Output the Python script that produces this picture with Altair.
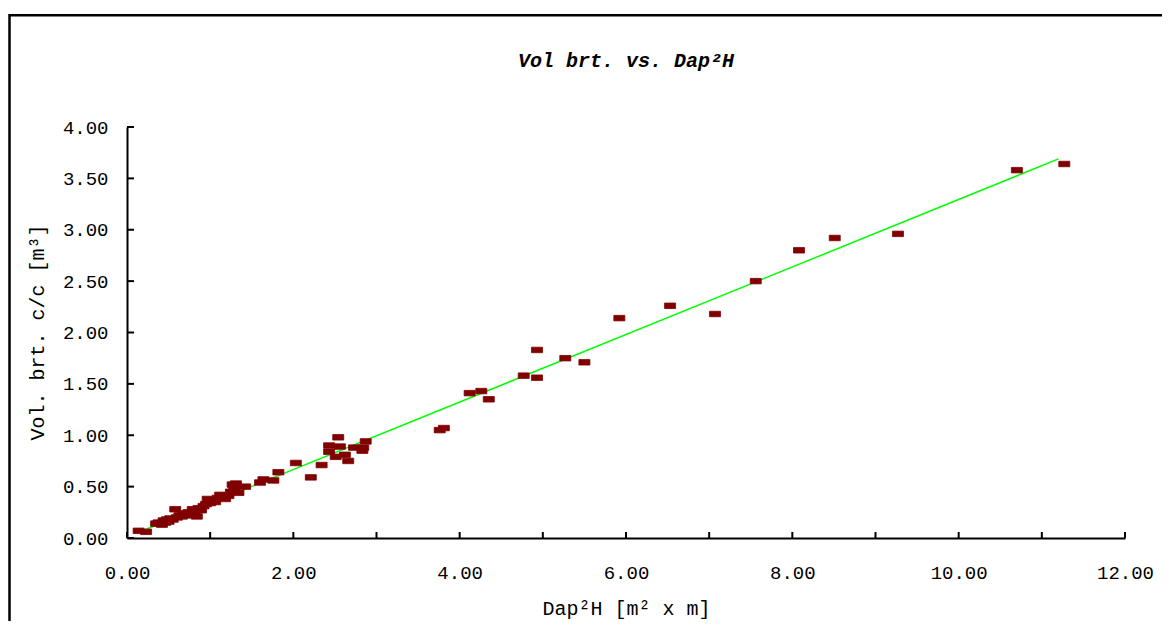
import altair as alt
import pandas as pd

# Dap²H [m² x m]
dap2h = [0.14, 0.23, 0.35, 0.38, 0.42, 0.44, 0.46, 0.48, 0.50, 0.52, 0.55, 0.58, 0.60, 0.63,
         0.66, 0.68, 0.71, 0.74, 0.76, 0.79, 0.81, 0.84, 0.86, 0.89, 0.92, 0.95, 0.97, 1.00,
         1.03, 1.06, 1.09, 1.12, 1.15, 1.18, 1.22, 1.25, 1.27, 1.29, 1.31, 1.34, 1.42, 1.60,
         1.64, 1.76, 1.82, 2.03, 2.21, 2.34, 2.43, 2.43, 2.54, 2.56, 2.51, 2.62, 2.66, 2.73,
         2.83, 2.84, 2.87, 3.76, 3.81, 4.12, 4.26, 4.35, 4.77, 4.93, 4.93, 5.27, 5.50, 5.92,
         6.53, 7.07, 7.56, 8.08, 8.51, 9.27, 10.70, 11.27]
# Vol. brt. c/c [m³]
vol = [0.07, 0.06, 0.14, 0.15, 0.13, 0.17, 0.15, 0.18, 0.16, 0.19, 0.18, 0.28, 0.20, 0.22,
       0.21, 0.24, 0.22, 0.25, 0.23, 0.28, 0.26, 0.21, 0.29, 0.27, 0.31, 0.33, 0.38, 0.34,
       0.36, 0.35, 0.39, 0.42, 0.40, 0.38, 0.41, 0.45, 0.52, 0.49, 0.53, 0.44, 0.50, 0.54,
       0.57, 0.56, 0.64, 0.73, 0.59, 0.71, 0.90, 0.84, 0.98, 0.89, 0.79, 0.81, 0.75, 0.88,
       0.85, 0.88, 0.94, 1.05, 1.07, 1.41, 1.43, 1.35, 1.58, 1.83, 1.56, 1.75, 1.71, 2.14,
       2.26, 2.18, 2.50, 2.80, 2.92, 2.96, 3.58, 3.64]

x_ticks = list(range(0, 13))
x_labels = [0, 2, 4, 6, 8, 10, 12]
y_ticks = [0, 0.5, 1.0, 1.5, 2.0, 2.5, 3.0, 3.5, 4.0]
trend_extent = [0.15, 11.2]
chart_title = ["Vol brt. vs. Dap²H"]

df = pd.DataFrame({"x": dap2h, "y": vol})
xt = pd.DataFrame({"x": x_ticks})
yt = pd.DataFrame({"y": y_ticks})

W, H = 998, 411
FONT = "Liberation Mono"

xscale = alt.Scale(domain=[0, 12], nice=False, zero=False)
yscale = alt.Scale(domain=[0, 4], nice=False, zero=False)

xaxis = alt.Axis(values=x_labels, format=".2f", ticks=False, grid=False,
                 domainColor="black", domainWidth=2, labelFont=FONT, labelFontSize=19,
                 labelColor="black", labelPadding=25, title="Dap²H [m² x m]",
                 titleFont=FONT, titleFontSize=20, titleFontWeight="normal",
                 titleColor="black", titleX=499, titleY=70, titleBaseline="middle",
                 titleAnchor="middle", labelFlush=False)
yaxis = alt.Axis(values=y_ticks, format=".2f", ticks=False, grid=False,
                 domainColor="black", domainWidth=2, labelFont=FONT, labelFontSize=19,
                 labelColor="black", labelPadding=19, title="Vol. brt. c/c [m³]",
                 titleFont=FONT, titleFontSize=20, titleFontWeight="normal",
                 titleColor="black", titleX=-90, titleY=205, titleBaseline="middle",
                 titleAnchor="middle", labelFlush=False)

border = alt.Chart(pd.DataFrame({"a": [0]})).mark_rect(
    fill=None, stroke="black", strokeWidth=2.5, clip=False
).encode(x=alt.value(-117.5), x2=alt.value(1200), y=alt.value(-111.7), y2=alt.value(700))

title_text = alt.Chart(pd.DataFrame({"t": chart_title})).mark_text(
    font=FONT, fontSize=20, fontWeight="bold", fontStyle="italic", color="black",
    align="center", baseline="middle"
).encode(text="t:N", x=alt.value(W / 2), y=alt.value(-66))

trend = alt.Chart(df).transform_regression("x", "y", extent=trend_extent).mark_line(
    color="#00ff00", strokeWidth=1.5
).encode(x=alt.X("x:Q", scale=xscale, axis=xaxis), y=alt.Y("y:Q", scale=yscale, axis=yaxis))

points = alt.Chart(df).mark_point(
    shape="M-1,-0.5H1V0.5H-1Z", size=121, filled=True, fill="#800000", opacity=1,
    stroke="#800000", strokeWidth=0.8, strokeJoin="round"
).encode(x=alt.X("x:Q", scale=xscale), y=alt.Y("y:Q", scale=yscale))

xtick_rules = alt.Chart(xt).mark_rule(color="black", strokeWidth=2).encode(
    x=alt.X("x:Q", scale=xscale), y=alt.value(H), y2=alt.value(H - 6))
ytick_rules = alt.Chart(yt).mark_rule(color="black", strokeWidth=2).encode(
    y=alt.Y("y:Q", scale=yscale), x=alt.value(0), x2=alt.value(7))

chart = alt.layer(border, title_text, trend, points, xtick_rules, ytick_rules).properties(
    width=W, height=H,
    background="white",
    autosize=alt.AutoSizeParams(type="none"),
    padding={"left": 119, "top": 119, "right": 37, "bottom": 83},
).configure_view(stroke=None, strokeWidth=0)

chart.save("out.html", embed_options={"renderer": "svg", "actions": False})
